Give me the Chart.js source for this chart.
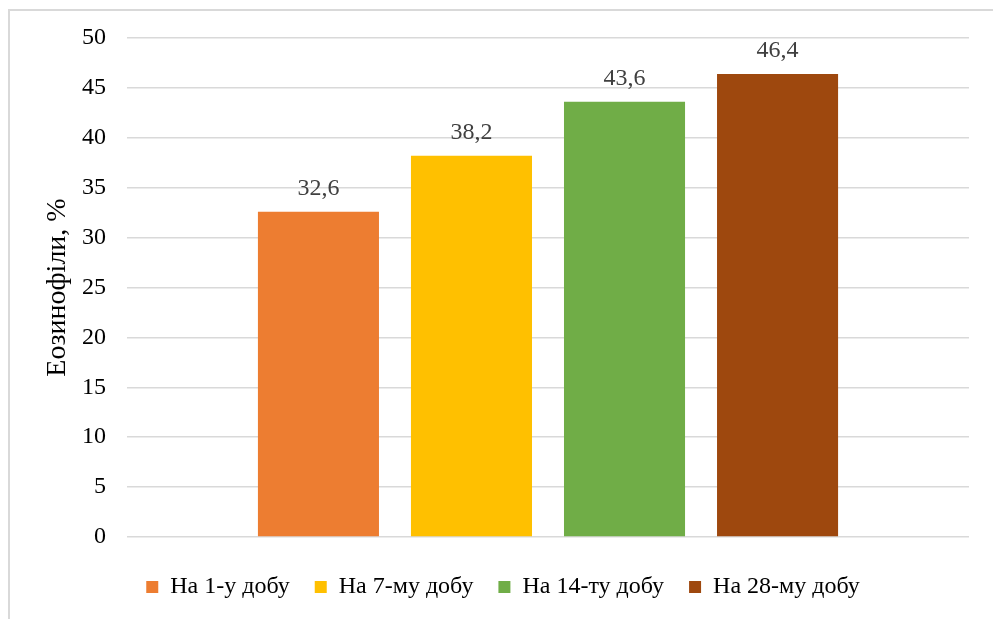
<!DOCTYPE html>
<html>
<head>
<meta charset="utf-8">
<script src="https://cdn.jsdelivr.net/npm/chart.js@4.4.1/dist/chart.umd.min.js"></script>
<style>
  html, body { margin: 0; padding: 0; background: #fff; }
  #wrap { position: relative; width: 993px; height: 619px; overflow: hidden; }
  #frame { position: absolute; left: 8px; top: 9px; width: 1100px; height: 700px;
           border-left: 2px solid #d9d9d9; border-top: 2px solid #d9d9d9; }
  #chart_eos { position: absolute; left: 0; top: 0; }
</style>
</head>
<body>
<div id="wrap">
  <div id="frame"></div>
  <canvas id="chart_eos" width="993" height="619"></canvas>
</div>
<script>
/*Eosinophils chart*/
var seriesNames = ["На 1-у добу", "На 7-му добу", "На 14-ту добу", "На 28-му добу"];
var seriesValues = [32.6, 38.2, 43.6, 46.4];
var seriesColors = ["#ED7D31", "#FFC000", "#70AD47", "#9E480E"];
var yTitle = "Еозинофіли, %";

var valueLabels = {
    id: 'valueLabels',
    afterDatasetsDraw: function(chart) {
        var ctx = chart.ctx;
        ctx.save();
        ctx.font = "24px 'Liberation Serif'";
        ctx.fillStyle = "#404040";
        ctx.textAlign = "center";
        ctx.textBaseline = "alphabetic";
        chart.data.datasets.forEach(function(ds, i) {
            var meta = chart.getDatasetMeta(i);
            meta.data.forEach(function(bar, j) {
                var txt = String(ds.data[j]).replace('.', ',');
                ctx.fillText(txt, bar.x, bar.y - 17);
            });
        });
        ctx.restore();
    }
};

var datasets = seriesNames.map(function(name, i) {
    return {
        label: name,
        data: [seriesValues[i]],
        backgroundColor: seriesColors[i],
        borderWidth: 0,
        categoryPercentage: 0.727,
        barPercentage: 0.791
    };
});

var ctx = document.getElementById("chart_eos").getContext("2d");
var barChart = new Chart(ctx, {
    type: 'bar',
    data: { labels: [""], datasets: datasets },
    plugins: [valueLabels],
    options: {
        responsive: false,
        animation: false,
        layout: { padding: { left: 37, top: 38, right: 24, bottom: 10 } },
        plugins: {
            legend: {
                position: 'bottom',
                labels: {
                    boxWidth: 12,
                    boxHeight: 12,
                    padding: 25,
                    color: "#000",
                    font: { family: "'Liberation Serif'", size: 24 }
                }
            },
            tooltip: { enabled: false }
        },
        scales: {
            x: {
                grid: { display: false },
                border: { display: false },
                ticks: { display: false },
                afterFit: function(s) { s.height = 13; }
            },
            y: {
                min: 0,
                max: 50,
                ticks: {
                    stepSize: 5,
                    padding: 21,
                    color: "#000",
                    font: { family: "'Liberation Serif'", size: 24 }
                },
                grid: { color: "#d9d9d9", lineWidth: 1.5, drawTicks: false },
                border: { display: false },
                title: {
                    display: true,
                    text: yTitle,
                    color: "#000",
                    padding: { top: 4, bottom: 4 },
                    font: { family: "'Liberation Serif'", size: 28 }
                },
                afterFit: function(s) { s.width = 90; }
            }
        }
    }
});
</script>
</body>
</html>
